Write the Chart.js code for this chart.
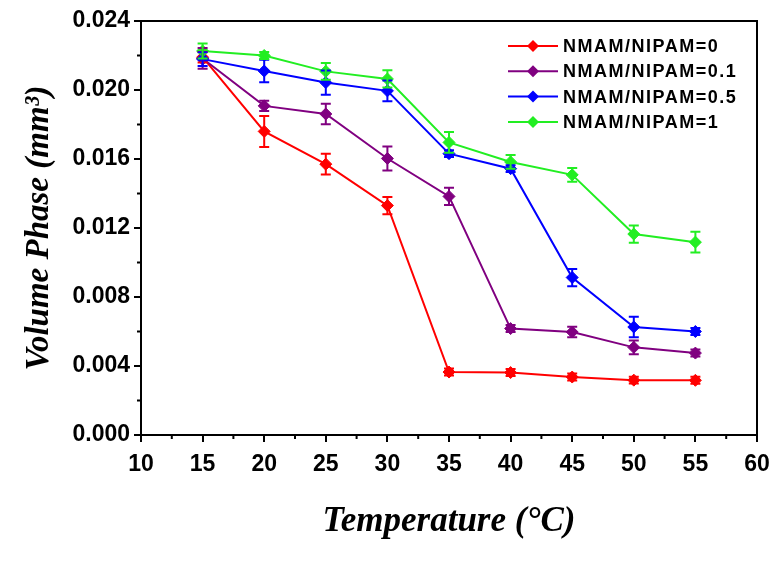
<!DOCTYPE html>
<html>
<head>
<meta charset="utf-8">
<script src="https://cdn.jsdelivr.net/npm/chart.js@4.4.0/dist/chart.umd.min.js"></script>
<style>
  body { margin: 0; background: #fff; }
  #wrap { width: 775px; height: 567px; }
</style>
</head>
<body>
<div id="wrap"><canvas id="volChart" width="775" height="567"></canvas></div>
<script>
// temperature (°C)
const temps = [15, 20, 25, 30, 35, 40, 45, 50, 55];

// volume phase (mm^3) and error bars, one pair per NMAM/NIPAM ratio
const vol0 = [0.0219, 0.0176, 0.0157, 0.0133, 0.00365, 0.00362, 0.00336, 0.00318, 0.00317];
const err0 = [0.0003, 0.0009, 0.0006, 0.0005, 0.0002, 0.0002, 0.0002, 0.0002, 0.0002];

const vol01 = [0.02183, 0.01908, 0.01861, 0.01603, 0.01383, 0.00617, 0.00597, 0.00508, 0.00475];
const err01 = [0.0006, 0.0003, 0.0006, 0.0007, 0.0005, 0.0002, 0.0003, 0.0004, 0.0002];

const vol05 = [0.02179, 0.0211, 0.02043, 0.01995, 0.01631, 0.01544, 0.00913, 0.00626, 0.0060];
const err05 = [0.0004, 0.00065, 0.0007, 0.0006, 0.0002, 0.0002, 0.0005, 0.0006, 0.0002];

const vol1 = [0.02226, 0.0220, 0.02108, 0.02064, 0.01696, 0.01583, 0.01508, 0.01165, 0.01118];
const err1 = [0.00043, 0.0002, 0.00048, 0.0005, 0.0006, 0.0004, 0.0004, 0.0005, 0.0006];

const seriesLabels = ["NMAM/NIPAM=0", "NMAM/NIPAM=0.1", "NMAM/NIPAM=0.5", "NMAM/NIPAM=1"];
const seriesColors = ["#ff0000", "#800080", "#0000ff", "#22ee22"];
const seriesValues = [vol0, vol01, vol05, vol1];
const seriesErrors = [err0, err01, err05, err1];

const SANS = "'Liberation Sans', Arial, sans-serif";
const SERIF = "'Liberation Serif', 'Times New Roman', serif";

function toPoints(values) {
  return values.map((v, i) => ({ x: temps[i], y: v }));
}

// error bars + minor ticks + frame + legend
const extrasPlugin = {
  id: "extras",
  afterDatasetsDraw(chart) {
    const ctx = chart.ctx;
    const yScale = chart.scales.y;
    ctx.save();
    ctx.lineWidth = 2;
    chart.data.datasets.forEach((ds, di) => {
      const meta = chart.getDatasetMeta(di);
      const errs = seriesErrors[di];
      ctx.strokeStyle = ds.borderColor;
      meta.data.forEach((pt, i) => {
        const v = ds.data[i].y;
        const yTop = yScale.getPixelForValue(v + errs[i]);
        const yBot = yScale.getPixelForValue(v - errs[i]);
        ctx.beginPath();
        ctx.moveTo(pt.x, yTop);
        ctx.lineTo(pt.x, yBot);
        ctx.moveTo(pt.x - 5, yTop);
        ctx.lineTo(pt.x + 5, yTop);
        ctx.moveTo(pt.x - 5, yBot);
        ctx.lineTo(pt.x + 5, yBot);
        ctx.stroke();
      });
    });
    ctx.restore();
  },
  afterDraw(chart) {
    const ctx = chart.ctx;
    const area = chart.chartArea;
    const xs = chart.scales.x;
    const ys = chart.scales.y;
    ctx.save();
    ctx.strokeStyle = "#000";
    ctx.lineWidth = 2;

    // frame top and right
    ctx.beginPath();
    ctx.moveTo(area.left, area.top);
    ctx.lineTo(area.right, area.top);
    ctx.lineTo(area.right, area.bottom);
    ctx.stroke();

    // minor ticks
    ctx.beginPath();
    for (let t = 12.5; t < 60; t += 5) {
      const px = xs.getPixelForValue(t);
      ctx.moveTo(px, area.bottom);
      ctx.lineTo(px, area.bottom + 4);
    }
    for (let v = 0.002; v < 0.024; v += 0.004) {
      const py = ys.getPixelForValue(v);
      ctx.moveTo(area.left, py);
      ctx.lineTo(area.left - 4, py);
    }
    ctx.stroke();

    // legend
    const lx = 508, ly = 46, rowH = 25.3;
    ctx.font = "bold 18px " + SANS;
    ctx.textBaseline = "middle";
    ctx.textAlign = "left";
    chart.data.datasets.forEach((ds, i) => {
      const y = ly + i * rowH;
      ctx.strokeStyle = ds.borderColor;
      ctx.fillStyle = ds.borderColor;
      ctx.lineWidth = 2;
      ctx.beginPath();
      ctx.moveTo(lx, y);
      ctx.lineTo(lx + 50, y);
      ctx.stroke();
      ctx.beginPath();
      ctx.moveTo(lx + 25, y - 6);
      ctx.lineTo(lx + 31, y);
      ctx.lineTo(lx + 25, y + 6);
      ctx.lineTo(lx + 19, y);
      ctx.closePath();
      ctx.fill();
      ctx.fillStyle = "#000";
      ctx.letterSpacing = "1.5px";
      ctx.fillText(ds.label, lx + 55, y + 1);
      ctx.letterSpacing = "0px";
    });
    ctx.restore();
  },
};

const datasets = seriesLabels.map((label, i) => ({
  label: label,
  data: toPoints(seriesValues[i]),
  borderColor: seriesColors[i],
  backgroundColor: seriesColors[i],
  borderWidth: 2,
  pointStyle: "rectRot",
  pointRadius: 6,
  pointHoverRadius: 6,
  pointBorderWidth: 1,
  showLine: true,
  tension: 0,
  order: 4 - i,
}));

new Chart(document.getElementById("volChart"), {
  type: "scatter",
  data: { datasets: datasets },
  options: {
    responsive: false,
    animation: false,
    layout: { padding: { top: 21, right: 18, left: 0, bottom: 0 } },
    plugins: {
      legend: { display: false },
      tooltip: { enabled: false },
    },
    scales: {
      x: {
        type: "linear",
        min: 10,
        max: 60,
        afterFit(scale) {
          scale.height = 132;
          scale.paddingLeft = 0;
          scale.paddingRight = 0;
        },
        ticks: {
          stepSize: 5,
          padding: 9,
          color: "#000",
          font: { family: SANS, size: 23, weight: "bold" },
          maxRotation: 0,
        },
        grid: { drawOnChartArea: false, drawTicks: true, tickLength: 7, color: "#000", lineWidth: 2 },
        border: { display: true, color: "#000", width: 2 },
        title: {
          display: true,
          text: "Temperature (°C)",
          color: "#000",
          font: { family: SERIF, size: 35, weight: "bold", style: "italic" },
          padding: { top: 0, bottom: 24 },
        },
      },
      y: {
        min: 0,
        max: 0.024,
        afterFit(scale) {
          scale.width = 141;
          scale.paddingTop = 0;
          scale.paddingBottom = 0;
        },
        ticks: {
          stepSize: 0.004,
          padding: 4,
          color: "#000",
          font: { family: SANS, size: 23, weight: "bold" },
          callback: (v) => v.toFixed(3),
        },
        grid: { drawOnChartArea: false, drawTicks: true, tickLength: 7, color: "#000", lineWidth: 2 },
        border: { display: true, color: "#000", width: 2 },
        title: {
          display: true,
          text: "Volume Phase (mm³)",
          color: "#000",
          font: { family: SERIF, size: 33, weight: "bold", style: "italic" },
          padding: { top: 20, bottom: 0 },
        },
      },
    },
  },
  plugins: [extrasPlugin],
});
</script>
</body>
</html>
